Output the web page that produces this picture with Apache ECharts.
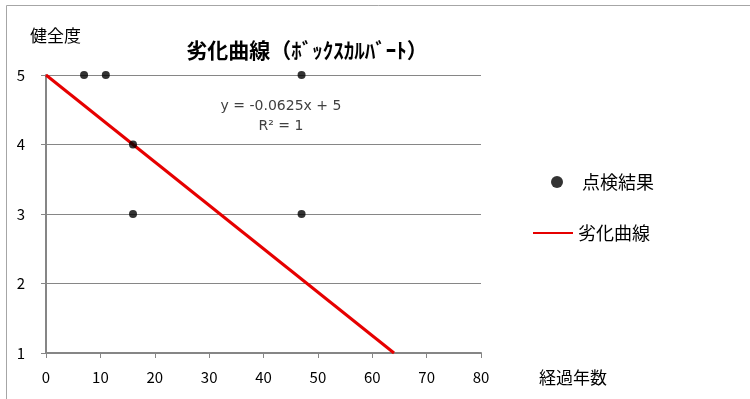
<!DOCTYPE html>
<html>
<head>
<meta charset="utf-8">
<script src="https://cdn.jsdelivr.net/npm/echarts@6/dist/echarts.min.js"></script>
<style>
  html, body { margin: 0; padding: 0; background: #fff; }
  #chart { width: 750px; height: 399px; }
</style>
</head>
<body>
<div id="chart"></div>
<script>
// 点検結果 (経過年数, 健全度)
const inspectionPoints = [[7, 5], [11, 5], [47, 5], [16, 4], [16, 3], [47, 3]];
// 劣化曲線 y = -0.0625x + 5
const curvePoints = [[0, 5], [64, 1]];
const xTicks = [0, 10, 20, 30, 40, 50, 60, 70, 80];
const yTicks = [1, 2, 3, 4, 5];

const font = '"Noto Sans CJK JP", "Noto Sans", sans-serif';
const chart = echarts.init(document.getElementById('chart'));

const option = {
  backgroundColor: '#fff',
  animation: false,
  title: {
    text: '劣化曲線（ﾎﾞｯｸｽｶﾙﾊﾞｰﾄ）',
    left: 302,
    textAlign: 'center',
    top: 35,
    textStyle: { fontFamily: font, fontSize: 21, fontWeight: 'bold', color: '#000' }
  },
  legend: [
    {
      data: ['点検結果'],
      left: 551,
      top: 173,
      padding: 0,
      icon: 'circle',
      itemWidth: 12,
      itemHeight: 12,
      textStyle: { fontFamily: font, fontSize: 18, color: '#000', padding: [0, 0, 0, 14] }
    },
    {
      data: ['劣化曲線'],
      left: 533,
      top: 224,
      padding: 0,
      icon: 'rect',
      itemWidth: 40,
      itemHeight: 2,
      textStyle: { fontFamily: font, fontSize: 18, color: '#000' }
    }
  ],
  grid: { left: 46, right: 269, top: 75, bottom: 46 },
  xAxis: {
    type: 'value',
    min: 0,
    max: 80,
    interval: 10,
    name: '経過年数',
    nameLocation: 'end',
    nameGap: 58,
    nameTextStyle: { fontFamily: font, fontSize: 17, color: '#000', verticalAlign: 'top', padding: [16, 0, 0, 0] },
    axisLine: { lineStyle: { color: '#868686', width: 2 } },
    axisTick: { show: true, length: 5, lineStyle: { color: '#868686', width: 1 } },
    axisLabel: {
      fontFamily: font, fontSize: 15, color: '#000', margin: 17,
      formatter: v => xTicks.includes(v) ? String(v) : ''
    },
    splitLine: { show: false }
  },
  yAxis: {
    type: 'value',
    min: 1,
    max: 5,
    interval: 1,
    name: '健全度',
    nameLocation: 'end',
    nameGap: 31,
    nameTextStyle: { fontFamily: font, fontSize: 17, color: '#000', align: 'left', padding: [0, 0, 0, -16] },
    axisLine: { show: true, lineStyle: { color: '#868686', width: 2 } },
    axisTick: { show: true, length: 5, lineStyle: { color: '#868686', width: 1 } },
    axisLabel: {
      fontFamily: font, fontSize: 15, color: '#000', margin: 21,
      formatter: v => yTicks.includes(v) ? String(v) : ''
    },
    splitLine: { show: true, lineStyle: { color: '#868686', width: 1 } }
  },
  graphic: [
    {
      type: 'rect',
      silent: true,
      shape: { x: 6.5, y: 5.5, width: 900, height: 500 },
      style: { fill: 'none', stroke: '#a6a6a6', lineWidth: 1 }
    },
    {
      type: 'text',
      x: 281,
      y: 96,
      silent: true,
      style: {
        text: 'y = -0.0625x + 5\nR² = 1',
        fill: '#404040',
        font: '14px "DejaVu Sans", sans-serif',
        align: 'center',
        verticalAlign: 'top',
        lineHeight: 20
      }
    }
  ],
  series: [
    {
      name: '劣化曲線',
      type: 'line',
      data: curvePoints,
      symbol: 'none',
      lineStyle: { color: '#e60000', width: 3 },
      itemStyle: { color: '#e60000' },
      z: 2
    },
    {
      name: '点検結果',
      type: 'scatter',
      data: inspectionPoints,
      symbol: 'circle',
      symbolSize: 8,
      itemStyle: { color: '#000' },
      z: 3
    }
  ]
};

chart.setOption(option);
</script>
</body>
</html>
